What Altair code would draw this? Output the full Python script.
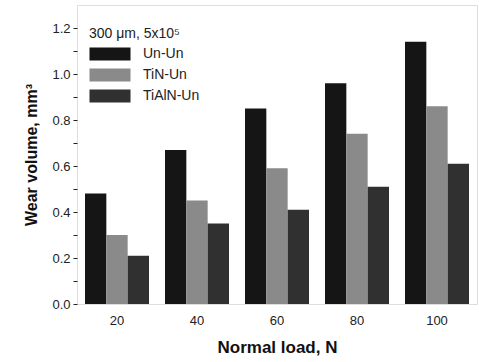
import altair as alt
import pandas as pd

loads = ["20", "40", "60", "80", "100"]
series = ["Un-Un", "TiN-Un", "TiAlN-Un"]
un_un = [0.48, 0.67, 0.85, 0.96, 1.14]
tin_un = [0.30, 0.45, 0.59, 0.74, 0.86]
tialn_un = [0.21, 0.35, 0.41, 0.51, 0.61]
y_ticks = [round(i * 0.1, 1) for i in range(13)]

rows = []
for i, l in enumerate(loads):
    for s, vals in zip(series, [un_un, tin_un, tialn_un]):
        rows.append({"load": l, "series": s, "volume": vals[i]})
df = pd.DataFrame(rows)

font = "Liberation Sans"

chart = alt.Chart(df).mark_bar(stroke=None).encode(
    x=alt.X("load:N", sort=loads,
            scale=alt.Scale(paddingInner=0.2, paddingOuter=0.1),
            axis=alt.Axis(title="Normal load, N", labelAngle=0, ticks=False,
                          domain=False, labelFontSize=13, labelPadding=10,
                          titleFontSize=17, titleFontWeight="bold",
                          titlePadding=12, labelFont=font, titleFont=font,
                          labelColor="#222", titleColor="#111")),
    xOffset=alt.XOffset("series:N", sort=series),
    y=alt.Y("volume:Q", scale=alt.Scale(domain=[0, 1.3], nice=False),
            axis=alt.Axis(title="Wear volume, mm³", values=y_ticks,
                          labelExpr="round(datum.value*10) % 2 == 0 ? format(datum.value, '.1f') : ''",
                          grid=False, domain=False, tickSize=4, tickColor="#222",
                          labelFontSize=13, labelPadding=3, titleFontSize=16,
                          titleFontWeight="bold", titlePadding=12,
                          labelFont=font, titleFont=font,
                          labelColor="#222", titleColor="#111")),
    color=alt.Color("series:N", sort=series,
                    scale=alt.Scale(domain=series, range=["#151515", "#8a8a8a", "#303030"]),
                    legend=alt.Legend(title="300 μm, 5x10⁵", orient="none",
                                      legendX=12, legendY=22, padding=0,
                                      titleFontSize=14, titleFontWeight="normal",
                                      titleFont=font, labelFont=font,
                                      labelFontSize=14, titleColor="#222",
                                      labelColor="#222", titlePadding=6,
                                      symbolType="M-3,-0.95L3,-0.95L3,0.95L-3,0.95Z",
                                      symbolSize=187, symbolStrokeWidth=0,
                                      symbolOffset=14,
                                      labelOffset=26, rowPadding=7)),
).properties(
    width=400, height=299,
    padding={"left": 77, "top": 5, "right": 2, "bottom": 58},
    autosize=alt.AutoSizeParams(type="none"),
).configure_view(stroke="#111", strokeWidth=1.5).configure(background="white")

chart.save("out.html", embed_options={"renderer": "svg", "actions": False})
